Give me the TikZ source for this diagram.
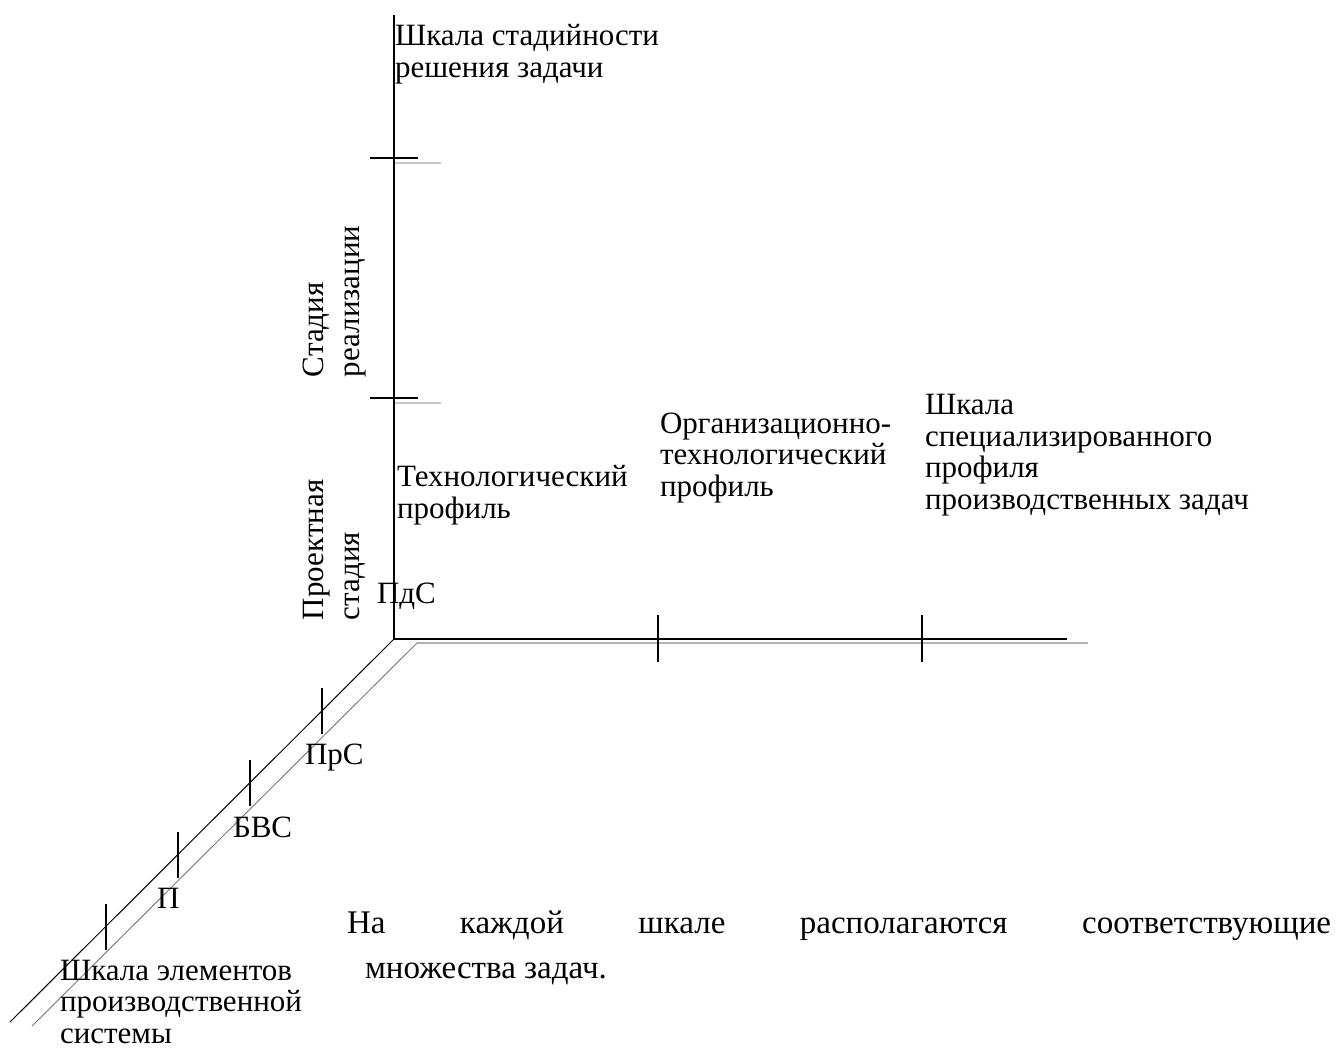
\documentclass[tikz,border=0pt]{standalone}
\usepackage{fontspec}
\setmainfont{Liberation Serif}
\begin{document}
\begin{tikzpicture}[x=1pt,y=-1pt,
  lbl/.style={anchor=base west, inner sep=0pt, outer sep=0pt, align=left, font=\fontsize{31}{31.5}\selectfont},
  rlbl/.style={lbl, rotate=90, font=\fontsize{31}{35.7}\selectfont},
  para/.style={lbl, font=\fontsize{33}{45}\selectfont},
  axisline/.style={line width=1.3pt, black},
  tickline/.style={line width=2pt, black},
  shadowtick/.style={line width=2pt, black!22},
  shadowaxis/.style={line width=1.4pt, black!30},
  shadowdiag/.style={line width=1pt, black!50}]
\useasboundingbox (0,0) rectangle (1343,1055);
% axis points
\coordinate (O) at (394,639);
\coordinate (Vtop) at (394,15);
\coordinate (Hend) at (1067,639);
\coordinate (Dend) at (10,1022);
\coordinate (S) at (417,643);
\coordinate (SHend) at (1088,643);
\coordinate (SDend) at (32,1026);
% shadows
\draw[shadowaxis] (S) -- (SHend);
\draw[shadowdiag] (S) -- (SDend);
\coordinate (vt1s) at (393,163); \coordinate (vt1e) at (441,163);
\coordinate (vt2s) at (393,403); \coordinate (vt2e) at (441,403);
\draw[shadowtick] (vt1s) -- (vt1e);
\draw[shadowtick] (vt2s) -- (vt2e);
% axes
\draw[axisline] (Vtop) -- (O) -- (Hend);
\draw[axisline, line width=1pt] (O) -- (Dend);
% vertical ticks
\coordinate (a1) at (370,158); \coordinate (b1) at (418,158);
\coordinate (a2) at (370,398); \coordinate (b2) at (418,398);
\draw[tickline] (a1) -- (b1);
\draw[tickline] (a2) -- (b2);
% horizontal ticks
\coordinate (h1a) at (658,615); \coordinate (h1b) at (658,662);
\coordinate (h2a) at (922,615); \coordinate (h2b) at (922,662);
\draw[tickline] (h1a) -- (h1b);
\draw[tickline] (h2a) -- (h2b);
% diagonal ticks
\foreach \i/\xx in {1/322,2/250,3/178,4/106}{
  \pgfmathsetmacro{\yy}{639+394-\xx}
  \coordinate (d\i a) at (\xx,\yy-23);
  \coordinate (d\i b) at (\xx,\yy+23);
  \draw[tickline] (d\i a) -- (d\i b);
}
% labels (anchored at the baseline of their last line)
\node[lbl] (ttop) at (395,77) {Шкала стадийности\\решения задачи};
\node[lbl] (ttech) at (397,518) {Технологический\\профиль};
\node[lbl] (torg) at (660,496) {Организационно-\\технологический\\профиль};
\node[lbl] (tspec) at (925,509) {Шкала\\специализированного\\профиля\\производственных задач};
\node[lbl] (tpds) at (377,603) {ПдС};
\node[lbl] (tprs) at (305,764) {ПрС};
\node[lbl] (tbvs) at (233,837) {БВС};
\node[lbl] (tp) at (157,908) {П};
\node[lbl] (telem) at (60,1043) {Шкала элементов\\производственной\\системы};
\node[rlbl] (treal) at (359,377) {Стадия\\реализации};
\node[rlbl] (tproj) at (359,620) {Проектная\\стадия};
\node[para] (tpara) at (347,978) {\makebox[984pt][s]{На каждой шкале располагаются соответствующие}\\\hspace*{18pt}множества задач.};
\end{tikzpicture}
\end{document}
